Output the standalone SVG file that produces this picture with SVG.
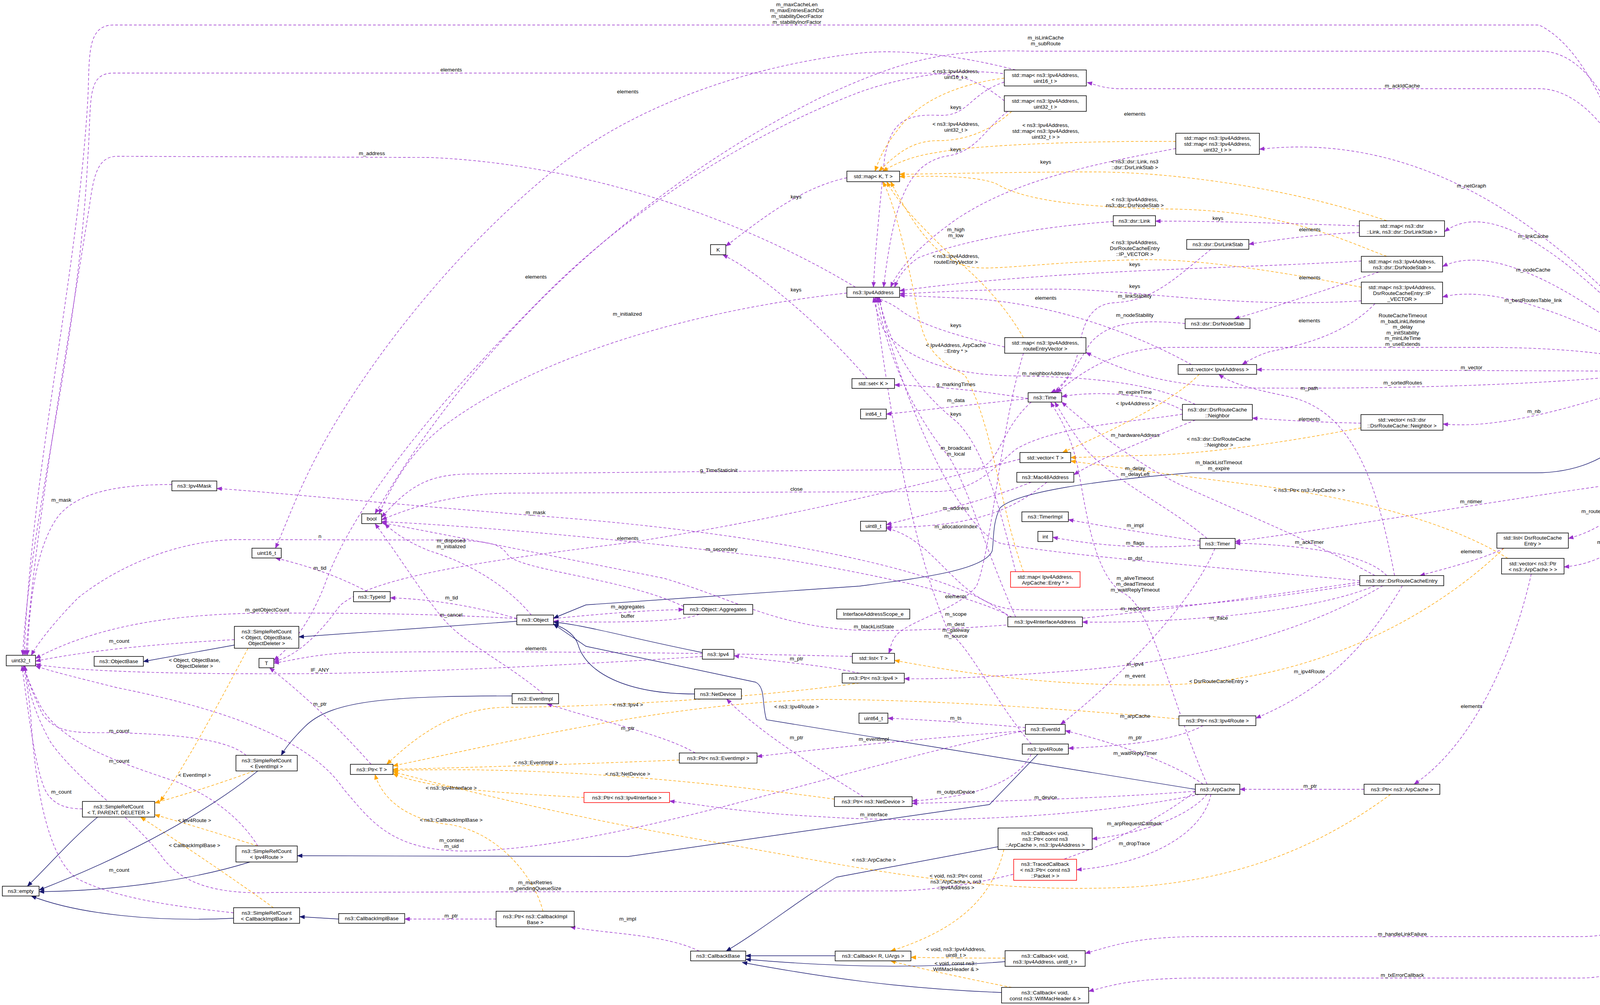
<svg xmlns="http://www.w3.org/2000/svg" width="4384" height="2572" viewBox="0 0 4384 2572">
<defs>
<marker id="ap" markerUnits="userSpaceOnUse" markerWidth="14" markerHeight="11" refX="13" refY="5.5" orient="auto"><path d="M0,0 L14,5.5 L0,11 z" fill="#9a32cd"/></marker>
<marker id="ao" markerUnits="userSpaceOnUse" markerWidth="14" markerHeight="11" refX="13" refY="5.5" orient="auto"><path d="M0,0 L14,5.5 L0,11 z" fill="#ffa500"/></marker>
<marker id="ab" markerUnits="userSpaceOnUse" markerWidth="14" markerHeight="11" refX="13" refY="5.5" orient="auto"><path d="M0,0 L14,5.5 L0,11 z" fill="#191970"/></marker>
</defs>
<style>
.node rect{fill:#fff;stroke:#000;stroke-width:1.5}
.node.root rect{fill:#bfbfbf}
.node.red rect{stroke:#ff0000}
text{font-family:"Liberation Sans",Arial,sans-serif;font-size:13.5px;fill:#000;text-anchor:middle}
#edges path{fill:none;stroke-width:1.4}
#edges .p{stroke:#9a32cd;stroke-dasharray:7,5;marker-end:url(#ap)}
#edges .o{stroke:#ffa500;stroke-dasharray:7,5;marker-end:url(#ao)}
#edges .b{stroke:#191970;marker-end:url(#ab)}
</style>
<rect width="4384" height="2572" fill="#fff"/>
<g id="edges">
<path class="p" d="M4262 937 C4240 600 4120 150 3940 64 L290 64 C220 64 230 150 225 250 C200 700 80 1200 62 1677"/>
<path class="p" d="M4270 937 C4250 600 4150 131 3943 131 L2640 131 C2400 125 2300 160 2100 250 C1600 500 1200 900 960 1315"/>
<path class="p" d="M4282 937 C4260 500 4100 227 3940 227 L2860 227 C2820 225 2800 215 2783 211"/>
<path class="p" d="M4285 937 Q3780 319 3224 382"/>
<path class="p" d="M4280 937 Q3861 471 3698 593"/>
<path class="p" d="M4275 937 Q3866 599 3693 682"/>
<path class="p" d="M4270 937 Q3869 716 3693 760"/>
<path class="p" d="M4240 937 C4150 900 3950 889 3800 889 L3000 889 C2850 889 2760 960 2705 1005"/>
<path class="p" d="M4198 950 L3217 946"/>
<path class="p" d="M4198 958 C3900 990 3500 995 3200 993 C3000 990 2900 960 2780 902"/>
<path class="p" d="M4260 963 Q3877 1104 3694 1085"/>
<path class="b" d="M4275 963 C4200 1120 4100 1210 3930 1210 L3050 1210 C2800 1230 2600 1260 2560 1300 C2540 1340 2545 1380 2540 1410 C2520 1460 2350 1480 2200 1500 L1500 1548 L1417 1582"/>
<path class="p" d="M4265 963 C4240 1100 4210 1230 4160 1236 C3900 1270 3500 1340 3162 1386"/>
<path class="p" d="M4280 963 C4260 1150 4200 1330 4015 1378"/>
<path class="p" d="M4285 963 C4270 1200 4230 1430 4004 1451"/>
<path class="p" d="M4292 963 C4290 1500 4250 2200 4150 2370 C4120 2395 4080 2397 4040 2397 L3050 2397 C2900 2400 2850 2420 2778 2440"/>
<path class="p" d="M4297 963 C4300 1600 4270 2350 4150 2480 C4110 2500 4080 2503 4040 2503 L3050 2503 C2900 2505 2850 2520 2787 2537"/>
<path class="p" d="M2571 258 C2500 200 2450 187 2350 187 L290 187 C220 187 235 260 225 400 C200 900 80 1300 58 1677"/>
<path class="p" d="M2190 735 C1900 560 1500 420 1100 403 L300 400 C250 400 240 450 230 520 C170 900 90 1350 66 1677"/>
<path class="p" d="M440 1240 C300 1240 200 1260 150 1320 C90 1400 75 1550 70 1677"/>
<path class="p" d="M1750 1552 C1600 1480 1330 1460 1300 1420 C1280 1390 1250 1385 1150 1382 L600 1381 C450 1385 300 1450 200 1530 C150 1580 100 1640 80 1677"/>
<path class="p" d="M1323 1583 C1100 1570 900 1569 700 1569 C450 1569 250 1600 91 1685"/>
<path class="p" d="M600 1637 C450 1645 250 1660 91 1692"/>
<path class="p" d="M1798 1680 C1500 1700 1100 1720 800 1724 C500 1726 200 1720 91 1700"/>
<path class="p" d="M630 1933 C580 1890 450 1880 300 1875 C200 1875 150 1880 110 1830 C90 1790 70 1740 62 1704"/>
<path class="p" d="M660 2165 C620 2100 550 2040 450 2000 C300 1950 150 1900 100 1800 C80 1760 68 1730 60 1704"/>
<path class="p" d="M211 2070 C170 2070 140 2060 120 2030 C90 1980 70 1800 56 1704"/>
<path class="p" d="M2625 1870 C2200 1950 1600 2170 1200 2178 C1000 2180 950 2100 880 2020 C800 1900 600 1820 300 1760 C180 1730 120 1715 91 1704"/>
<path class="p" d="M598 2336 C450 2320 300 2300 200 2250 C120 2200 90 2000 80 1850 C75 1780 65 1730 60 1704"/>
<path class="p" d="M3060 2025 C2900 2150 2600 2270 2300 2280 L700 2284 C550 2290 470 2260 420 2200 C350 2100 200 2000 130 1900 C90 1830 70 1760 64 1704"/>
<path class="p" d="M2168 750 C1800 790 1400 900 1150 1080 C1050 1150 1000 1250 970 1315"/>
<path class="p" d="M2640 1029 C2560 1100 2560 1190 2500 1200 L1200 1213 C1100 1215 1050 1240 977 1324"/>
<path class="p" d="M3027 1060 C2900 1080 2700 1090 2600 1150 C2540 1200 2500 1255 2400 1258 L1300 1262 C1150 1265 1050 1300 977 1330"/>
<path class="p" d="M2590 1579 C2500 1530 2300 1480 2000 1430 C1600 1380 1200 1345 977 1335"/>
<path class="p" d="M3481 1490 C3000 1560 2600 1612 2240 1614 C2000 1612 1900 1540 1700 1480 C1400 1420 1100 1360 977 1338"/>
<path class="p" d="M1360 1574 C1300 1500 1200 1440 1100 1410 C1050 1390 1010 1365 985 1340"/>
<path class="p" d="M1390 1775 C1300 1700 1200 1650 1150 1600 C1100 1550 1020 1420 960 1340"/>
<path class="p" d="M2590 1585 C2450 1450 1900 1360 1400 1322 C1000 1290 700 1260 555 1250"/>
<path class="p" d="M940 1514 Q840 1460 705 1428"/>
<path class="p" d="M1323 1583 Q1160 1535 999 1530"/>
<path class="p" d="M2600 179 C2450 140 2300 125 2200 136 C1900 170 1600 280 1400 450 C1100 700 900 1000 820 1150 C760 1260 730 1350 705 1403"/>
<path class="p" d="M2579 190 C2450 170 2300 200 2200 236 C1900 350 1600 550 1400 750 C1100 1050 900 1300 830 1500 C790 1600 740 1660 701 1690"/>
<path class="p" d="M2182 1680 C1800 1670 1200 1665 900 1670 C800 1675 750 1690 701 1697"/>
<path class="p" d="M2611 1175 C2400 1230 2000 1330 1600 1390 C1200 1440 950 1480 870 1550 C820 1620 760 1680 701 1693"/>
<path class="p" d="M950 1956 Q820 1810 690 1709"/>
<path class="p" d="M1417 1583 C1550 1570 1650 1562 1750 1560"/>
<path class="p" d="M1790 1572 C1750 1590 1600 1595 1417 1590"/>
<path class="p" d="M2571 210 C2480 240 2480 300 2400 295 C2300 290 2280 330 2265 400 C2250 550 2240 650 2236 735"/>
<path class="p" d="M2580 285 C2520 330 2500 390 2420 400 C2330 420 2290 500 2262 735"/>
<path class="p" d="M3010 380 C2800 420 2600 460 2450 560 C2350 630 2300 690 2280 735"/>
<path class="p" d="M2850 567 C2650 580 2450 620 2350 660 C2310 690 2300 710 2290 735"/>
<path class="p" d="M3485 668 C3100 690 2700 690 2303 744"/>
<path class="p" d="M3485 770 C3150 790 2900 740 2700 740 C2500 740 2400 748 2303 752"/>
<path class="p" d="M3050 933 C2900 850 2700 780 2500 765 C2400 760 2350 758 2303 756"/>
<path class="p" d="M2572 888 C2450 860 2350 830 2300 790 C2270 770 2250 765 2240 761"/>
<path class="p" d="M3060 1035 C2950 980 2800 965 2600 962 C2400 960 2300 900 2260 840 C2245 800 2240 780 2236 761"/>
<path class="p" d="M2600 1463 C2560 1300 2520 1150 2450 1080 C2350 1000 2280 900 2250 761"/>
<path class="p" d="M2600 1579 C2520 1400 2480 1250 2430 1170 C2330 1050 2270 900 2245 761"/>
<path class="p" d="M3481 1486 C3100 1450 2700 1420 2560 1390 C2450 1350 2300 1000 2250 761"/>
<path class="p" d="M2640 1904 C2550 1800 2480 1650 2430 1620 C2330 1400 2270 1000 2240 761"/>
<path class="o" d="M2571 200 C2450 215 2350 260 2300 330 C2260 380 2250 410 2240 438"/>
<path class="o" d="M2590 285 C2540 330 2480 360 2400 360 C2330 360 2290 400 2250 438"/>
<path class="o" d="M3010 362 C2800 360 2500 370 2400 390 C2330 400 2290 420 2260 438"/>
<path class="o" d="M3550 565 C3300 480 3000 440 2800 440 C2600 440 2400 445 2303 446"/>
<path class="o" d="M3550 656 C3450 620 3300 540 3000 535 C2700 530 2600 500 2550 470 C2500 450 2400 450 2303 452"/>
<path class="o" d="M3485 735 C3250 690 3050 660 2900 665 C2700 670 2560 690 2500 685 C2400 680 2330 560 2280 465"/>
<path class="o" d="M2620 864 C2560 760 2480 690 2420 640 C2350 570 2300 520 2270 465"/>
<path class="o" d="M2620 1463 C2560 1300 2540 1080 2470 960 C2400 920 2370 900 2350 800 C2320 650 2290 520 2260 465"/>
<path class="p" d="M2168 455 C2050 480 1950 560 1858 630"/>
<path class="p" d="M2220 969 C2120 850 1950 700 1850 652"/>
<path class="p" d="M2632 1020 Q2450 990 2290 985"/>
<path class="p" d="M2632 1020 Q2450 1040 2269 1060"/>
<path class="p" d="M3027 1050 C2950 1005 2800 1000 2718 1015"/>
<path class="o" d="M3070 958 C3000 1030 2850 1100 2720 1158"/>
<path class="o" d="M3484 1095 C3300 1130 3100 1160 2950 1165 C2850 1167 2800 1170 2741 1171"/>
<path class="o" d="M3860 1429 C3700 1330 3450 1270 3200 1240 C3000 1215 2850 1195 2741 1180"/>
<path class="p" d="M3060 1075 C2950 1120 2820 1170 2749 1215"/>
<path class="p" d="M2640 1234 C2500 1290 2350 1320 2269 1343"/>
<path class="p" d="M2680 1234 C2600 1300 2500 1350 2269 1349"/>
<path class="p" d="M3090 1378 C3000 1300 2850 1230 2780 1150 C2740 1100 2720 1060 2700 1029"/>
<path class="p" d="M3072 1385 Q2900 1360 2735 1330"/>
<path class="p" d="M3072 1395 Q2880 1410 2695 1375"/>
<path class="p" d="M3481 1495 C3200 1540 2900 1570 2600 1560 C2450 1550 2400 1380 2269 1352"/>
<path class="p" d="M3090 2007 C3000 1800 2950 1560 2880 1520 C2800 1480 2780 1300 2760 1200 C2740 1100 2700 1050 2690 1029"/>
<path class="p" d="M3520 1473 C3350 1380 3150 1300 3020 1240 C2900 1180 2800 1100 2718 1029"/>
<path class="p" d="M3034 828 C2900 815 2830 830 2790 880 C2760 930 2730 980 2700 1005"/>
<path class="p" d="M3100 638 C3000 720 2950 770 2850 775 C2780 780 2770 850 2760 900 C2750 950 2720 990 2690 1005"/>
<path class="p" d="M3480 578 Q3118 565 2958 566"/>
<path class="p" d="M3480 595 Q3350 600 3197 625"/>
<path class="p" d="M3530 696 C3400 740 3250 790 3160 816"/>
<path class="p" d="M3520 777 C3450 850 3350 880 3250 900 C3220 910 3200 920 3180 933"/>
<path class="p" d="M3570 1473 C3520 1200 3450 1050 3300 1015 C3200 995 3150 980 3120 958"/>
<path class="p" d="M3484 1083 Q3350 1080 3206 1070"/>
<path class="p" d="M3550 1473 C3500 1420 3350 1395 3162 1390"/>
<path class="p" d="M3850 1403 C3800 1430 3700 1455 3635 1473"/>
<path class="p" d="M3520 1499 C3350 1570 3000 1595 2771 1592"/>
<path class="p" d="M3540 1499 C3300 1640 3000 1700 2700 1720 C2500 1735 2400 1738 2315 1737"/>
<path class="p" d="M3590 1499 C3500 1650 3400 1760 3215 1838"/>
<path class="o" d="M3850 1403 C3700 1550 3400 1740 3000 1752 C2700 1760 2450 1720 2290 1690"/>
<path class="p" d="M3920 1469 C3880 1650 3780 1900 3620 2007"/>
<path class="p" d="M3492 2020 L3174 2020"/>
<path class="o" d="M3560 2033 C3400 2150 3200 2250 2900 2270 C2500 2290 2200 2220 1800 2150 C1400 2080 1100 2000 1006 1975"/>
<path class="p" d="M3080 1857 C3000 1900 2850 1910 2735 1915"/>
<path class="o" d="M3018 1840 C2800 1820 2400 1790 2100 1790 C1700 1800 1300 1900 1006 1960"/>
<path class="o" d="M2200 1748 C1900 1790 1500 1810 1300 1810 C1150 1810 1050 1900 990 1956"/>
<path class="p" d="M2200 1723 C2100 1700 1950 1690 1879 1678"/>
<path class="o" d="M1739 1945 Q1370 1960 1006 1969"/>
<path class="o" d="M1495 2041 C1300 2030 1100 2020 1006 1980"/>
<path class="o" d="M1390 2332 C1370 2250 1280 2130 1150 2110 C1050 2100 980 2050 960 1982"/>
<path class="p" d="M1780 1927 C1700 1880 1550 1850 1400 1801"/>
<path class="p" d="M2210 2039 C2100 1970 1950 1880 1860 1789"/>
<path class="o" d="M2136 2045 C1800 2000 1400 1960 1006 1972"/>
<path class="p" d="M2625 1862 Q2447 1846 2273 1838"/>
<path class="p" d="M2625 1870 Q2237 1900 1938 1936"/>
<path class="p" d="M3110 1404 C3050 1550 2850 1750 2715 1854"/>
<path class="p" d="M3080 2007 C3000 1950 2850 1900 2727 1870"/>
<path class="p" d="M2640 1930 C2600 2010 2480 2040 2335 2050"/>
<path class="p" d="M3060 2025 C2800 2045 2500 2052 2335 2056"/>
<path class="p" d="M3070 2033 C2800 2090 2400 2110 2100 2090 C1900 2080 1800 2060 1714 2050"/>
<path class="p" d="M3090 2033 C3050 2080 2950 2130 2796 2147"/>
<path class="p" d="M3100 2033 C3080 2130 2950 2210 2756 2226"/>
<path class="o" d="M2570 2174 C2540 2300 2450 2380 2280 2434"/>
<path class="o" d="M2573 2452 Q2450 2452 2332 2450"/>
<path class="o" d="M2590 2527 C2450 2500 2320 2470 2280 2459"/>
<path class="p" d="M1790 2434 C1700 2390 1550 2390 1460 2372"/>
<path class="p" d="M1270 2352 L1036 2352"/>
<path class="p" d="M2620 904 C2560 1100 2540 1400 2500 1500 C2450 1560 2350 1580 2300 1620 C2280 1640 2280 1660 2275 1672"/>
<path class="o" d="M635 1659 C560 1800 480 1950 410 2051"/>
<path class="o" d="M650 1973 C550 2010 450 2040 396 2055"/>
<path class="o" d="M660 2165 C550 2130 450 2100 396 2085"/>
<path class="o" d="M700 2323 C600 2250 450 2150 360 2091"/>
<path class="b" d="M627 1646 L367 1693"/>
<path class="b" d="M1323 1590 L765 1630"/>
<path class="b" d="M1798 1670 C1600 1630 1500 1600 1417 1592"/>
<path class="b" d="M1778 1776 C1600 1776 1500 1720 1480 1650 C1470 1620 1440 1605 1417 1597"/>
<path class="b" d="M3060 2020 L1962 1842 C1950 1800 1960 1760 1935 1746 L1500 1654 L1417 1597"/>
<path class="b" d="M1370 1781 C1000 1780 850 1790 780 1860 C750 1890 730 1915 720 1933"/>
<path class="b" d="M660 1973 C500 2100 300 2200 100 2278"/>
<path class="b" d="M250 2091 C180 2150 120 2220 70 2268"/>
<path class="b" d="M640 2206 C500 2250 300 2280 100 2282"/>
<path class="b" d="M598 2350 C400 2360 200 2340 80 2293"/>
<path class="b" d="M867 2352 L767 2346"/>
<path class="b" d="M2657 1930 L2533 2059 L1608 2192 L761 2190"/>
<path class="b" d="M2555 2167 L2141 2245 C2050 2300 1950 2380 1859 2434"/>
<path class="b" d="M2138 2446 L1909 2446"/>
<path class="b" d="M2573 2461 C2400 2475 2200 2480 1909 2455"/>
<path class="b" d="M2564 2540 C2300 2530 2100 2500 1900 2463"/>
</g>
<g id="edge-labels">
<text x="2040" y="16">m_maxCacheLen<tspan x="2040" dy="15">m_maxEntriesEachDst</tspan><tspan x="2040" dy="15">m_stabilityDecrFactor</tspan><tspan x="2040" dy="15">m_stabilityIncrFactor</tspan></text>
<text x="2677" y="101">m_isLinkCache<tspan x="2677" dy="15">m_subRoute</tspan></text>
<text x="3590" y="224">m_ackIdCache</text>
<text x="1155" y="183">elements</text>
<text x="1607" y="239">elements</text>
<text x="952" y="397">m_address</text>
<text x="3767" y="480">m_netGraph</text>
<text x="2447" y="187">&lt; ns3::Ipv4Address,<tspan x="2447" dy="15">uint16_t &gt;</tspan></text>
<text x="2447" y="279">keys</text>
<text x="2905" y="296">elements</text>
<text x="2447" y="322">&lt; ns3::Ipv4Address,<tspan x="2447" dy="15">uint32_t &gt;</tspan></text>
<text x="2677" y="325">&lt; ns3::Ipv4Address,<tspan x="2677" dy="15">std::map&lt; ns3::Ipv4Address,</tspan><tspan x="2677" dy="15">uint32_t &gt; &gt;</tspan></text>
<text x="2447" y="387">keys</text>
<text x="2677" y="419">keys</text>
<text x="2905" y="418">&lt; ns3::dsr::Link, ns3<tspan x="2905" dy="15">::dsr::DsrLinkStab &gt;</tspan></text>
<text x="2038" y="508">keys</text>
<text x="2905" y="515">&lt; ns3::Ipv4Address,<tspan x="2905" dy="15">ns3::dsr::DsrNodeStab &gt;</tspan></text>
<text x="3118" y="563">keys</text>
<text x="2447" y="592">m_high<tspan x="2447" dy="15">m_low</tspan></text>
<text x="3353" y="592">elements</text>
<text x="3925" y="609">m_linkCache</text>
<text x="2905" y="625">&lt; ns3::Ipv4Address,<tspan x="2905" dy="15">DsrRouteCacheEntry</tspan><tspan x="2905" dy="15">::IP_VECTOR &gt;</tspan></text>
<text x="2447" y="660">&lt; ns3::Ipv4Address,<tspan x="2447" dy="15">routeEntryVector &gt;</tspan></text>
<text x="2905" y="681">keys</text>
<text x="3925" y="695">m_nodeCache</text>
<text x="1372" y="713">elements</text>
<text x="3353" y="715">elements</text>
<text x="2905" y="737">keys</text>
<text x="2038" y="746">keys</text>
<text x="2905" y="762">m_linkStability</text>
<text x="2677" y="767">elements</text>
<text x="3925" y="773">m_bestRoutesTable_link</text>
<text x="1606" y="808">m_initialized</text>
<text x="2905" y="811">m_nodeStability</text>
<text x="3591" y="812">RouteCacheTimeout<tspan x="3591" dy="14.6">m_badLinkLifetime</tspan><tspan x="3591" dy="14.6">m_delay</tspan><tspan x="3591" dy="14.6">m_initStability</tspan><tspan x="3591" dy="14.6">m_minLifeTime</tspan><tspan x="3591" dy="14.6">m_useExtends</tspan></text>
<text x="3352" y="825">elements</text>
<text x="2447" y="837">keys</text>
<text x="2447" y="888">&lt; Ipv4Address, ArpCache<tspan x="2447" dy="15">::Entry * &gt;</tspan></text>
<text x="3767" y="945">m_vector</text>
<text x="2677" y="960">m_neighborAddress</text>
<text x="3591" y="984">m_sortedRoutes</text>
<text x="2447" y="988">g_markingTimes</text>
<text x="3352" y="998">m_path</text>
<text x="2906" y="1008">m_expireTime</text>
<text x="2447" y="1029">m_data</text>
<text x="2906" y="1037">&lt; Ipv4Address &gt;</text>
<text x="3927" y="1057">m_nb</text>
<text x="2447" y="1064">keys</text>
<text x="3352" y="1077">elements</text>
<text x="2906" y="1118">m_hardwareAddress</text>
<text x="3120" y="1128">&lt; ns3::dsr::DsrRouteCache<tspan x="3120" dy="15">::Neighbor &gt;</tspan></text>
<text x="2447" y="1151">m_broadcast<tspan x="2447" dy="15">m_local</tspan></text>
<text x="3120" y="1188">m_blackListTimeout<tspan x="3120" dy="15">m_expire</tspan></text>
<text x="2906" y="1203">m_delay<tspan x="2906" dy="15">m_delayLeft</tspan></text>
<text x="1840" y="1208">g_TimeStaticInit</text>
<text x="2039" y="1256">close</text>
<text x="3352" y="1259">&lt; ns3::Ptr&lt; ns3::ArpCache &gt; &gt;</text>
<text x="157" y="1284">m_mask</text>
<text x="3766" y="1288">m_ntimer</text>
<text x="2447" y="1305">m_address</text>
<text x="4108" y="1313">m_routeEntryVector</text>
<text x="1371" y="1316">m_mask</text>
<text x="2906" y="1349">m_impl</text>
<text x="2447" y="1352">m_allocationIndex</text>
<text x="819" y="1377">n</text>
<text x="1607" y="1382">elements</text>
<text x="1155" y="1388">m_disposed<tspan x="1155" dy="15">m_initialized</tspan></text>
<text x="4108" y="1392">m_arp</text>
<text x="3352" y="1392">m_ackTimer</text>
<text x="2906" y="1394">m_flags</text>
<text x="1847" y="1410">m_secondary</text>
<text x="3767" y="1416">elements</text>
<text x="2906" y="1433">m_dst</text>
<text x="819" y="1458">m_tid</text>
<text x="2906" y="1484">m_aliveTimeout<tspan x="2906" dy="15">m_deadTimeout</tspan><tspan x="2906" dy="15">m_waitReplyTimeout</tspan></text>
<text x="2447" y="1531">elements</text>
<text x="1156" y="1534">m_tid</text>
<text x="1607" y="1557">m_aggregates</text>
<text x="2906" y="1562">m_reqCount</text>
<text x="684" y="1565">m_getObjectCount</text>
<text x="2447" y="1576">m_scope</text>
<text x="1155" y="1578">m_cancel</text>
<text x="1607" y="1581">buffer</text>
<text x="3120" y="1586">m_iface</text>
<text x="2447" y="1602">m_dest<tspan x="2447" dy="15">m_gateway</tspan><tspan x="2447" dy="15">m_source</tspan></text>
<text x="2237" y="1608">m_blackListState</text>
<text x="305" y="1645">m_count</text>
<text x="1372" y="1664">elements</text>
<text x="2039" y="1690">m_ptr</text>
<text x="498" y="1694">&lt; Object, ObjectBase,<tspan x="498" dy="15">ObjectDeleter &gt;</tspan></text>
<text x="2906" y="1704">m_ipv4</text>
<text x="819" y="1719">IF_ANY</text>
<text x="3352" y="1723">m_ipv4Route</text>
<text x="2906" y="1734">m_event</text>
<text x="3120" y="1748">&lt; DsrRouteCacheEntry &gt;</text>
<text x="819" y="1806">m_ptr</text>
<text x="1607" y="1808">&lt; ns3::Ipv4 &gt;</text>
<text x="3767" y="1812">elements</text>
<text x="2039" y="1813">&lt; ns3::Ipv4Route &gt;</text>
<text x="2906" y="1837">m_arpCache</text>
<text x="2447" y="1842">m_ts</text>
<text x="1607" y="1868">m_ptr</text>
<text x="305" y="1875">m_count</text>
<text x="2906" y="1892">m_ptr</text>
<text x="2039" y="1892">m_ptr</text>
<text x="2237" y="1896">m_eventImpl</text>
<text x="2906" y="1932">m_waitReplyTimer</text>
<text x="305" y="1952">m_count</text>
<text x="1372" y="1956">&lt; ns3::EventImpl &gt;</text>
<text x="1607" y="1985">&lt; ns3::NetDevice &gt;</text>
<text x="498" y="1988">&lt; EventImpl &gt;</text>
<text x="3354" y="2016">m_ptr</text>
<text x="1155" y="2021">&lt; ns3::Ipv4Interface &gt;</text>
<text x="2447" y="2031">m_outputDevice</text>
<text x="157" y="2031">m_count</text>
<text x="2677" y="2045">m_device</text>
<text x="2237" y="2089">m_interface</text>
<text x="1155" y="2103">&lt; ns3::CallbackImplBase &gt;</text>
<text x="498" y="2104">&lt; Ipv4Route &gt;</text>
<text x="2904" y="2112">m_arpRequestCallback</text>
<text x="1156" y="2155">m_context<tspan x="1156" dy="15">m_uid</tspan></text>
<text x="2904" y="2163">m_dropTrace</text>
<text x="498" y="2168">&lt; CallbackImplBase &gt;</text>
<text x="2237" y="2205">&lt; ns3::ArpCache &gt;</text>
<text x="305" y="2231">m_count</text>
<text x="2447" y="2246">&lt; void, ns3::Ptr&lt; const<tspan x="2447" dy="15">ns3::ArpCache &gt;, ns3</tspan><tspan x="2447" dy="15">::Ipv4Address &gt;</tspan></text>
<text x="1370" y="2263">m_maxRetries<tspan x="1370" dy="15">m_pendingQueueSize</tspan></text>
<text x="1155" y="2348">m_ptr</text>
<text x="1607" y="2356">m_impl</text>
<text x="3590" y="2395">m_handleLinkFailure</text>
<text x="2447" y="2434">&lt; void, ns3::Ipv4Address,<tspan x="2447" dy="15">uint8_t &gt;</tspan></text>
<text x="2447" y="2470">&lt; void, const ns3::<tspan x="2447" dy="15">WifiMacHeader &amp; &gt;</tspan></text>
<text x="3590" y="2500">m_txErrorCallback</text>
</g>
<g id="n1" class="node root"><rect x="4198" y="937" width="179" height="26"/><text x="4287.5" y="955">ns3::dsr::DsrRouteCache</text></g>
<g id="n2" class="node"><rect x="2571" y="179" width="210" height="41"/><text x="2676" y="197">std::map&lt; ns3::Ipv4Address,<tspan x="2676" dy="15">uint16_t &gt;</tspan></text></g>
<g id="n3" class="node"><rect x="2571" y="245" width="210" height="40"/><text x="2676" y="262.5">std::map&lt; ns3::Ipv4Address,<tspan x="2676" dy="15">uint32_t &gt;</tspan></text></g>
<g id="n4" class="node"><rect x="3010" y="341" width="214" height="54"/><text x="3117" y="358">std::map&lt; ns3::Ipv4Address,<tspan x="3117" dy="15">std::map&lt; ns3::Ipv4Address,</tspan><tspan x="3117" dy="15">uint32_t &gt; &gt;</tspan></text></g>
<g id="n5" class="node"><rect x="2168" y="438" width="135" height="27"/><text x="2235.5" y="456">std::map&lt; K, T &gt;</text></g>
<g id="n6" class="node"><rect x="2850" y="552" width="108" height="26"/><text x="2904" y="570">ns3::dsr::Link</text></g>
<g id="n7" class="node"><rect x="3480" y="565" width="218" height="40"/><text x="3589" y="582.5">std::map&lt; ns3::dsr<tspan x="3589" dy="15">::Link, ns3::dsr::DsrLinkStab &gt;</tspan></text></g>
<g id="n8" class="node"><rect x="3038" y="613" width="159" height="25"/><text x="3117.5" y="630">ns3::dsr::DsrLinkStab</text></g>
<g id="n9" class="node"><rect x="1819" y="626" width="39" height="26"/><text x="1838.5" y="644">K</text></g>
<g id="n10" class="node"><rect x="3485" y="656" width="208" height="40"/><text x="3589" y="673.5">std::map&lt; ns3::Ipv4Address,<tspan x="3589" dy="15">ns3::dsr::DsrNodeStab &gt;</tspan></text></g>
<g id="n11" class="node"><rect x="3485" y="722" width="208" height="55"/><text x="3589" y="739.5">std::map&lt; ns3::Ipv4Address,<tspan x="3589" dy="15">DsrRouteCacheEntry::IP</tspan><tspan x="3589" dy="15">_VECTOR &gt;</tspan></text></g>
<g id="n12" class="node"><rect x="2168" y="735" width="135" height="26"/><text x="2235.5" y="753">ns3::Ipv4Address</text></g>
<g id="n13" class="node"><rect x="3034" y="816" width="166" height="25"/><text x="3117" y="833">ns3::dsr::DsrNodeStab</text></g>
<g id="n14" class="node"><rect x="2572" y="864" width="208" height="40"/><text x="2676" y="881.5">std::map&lt; ns3::Ipv4Address,<tspan x="2676" dy="15">routeEntryVector &gt;</tspan></text></g>
<g id="n15" class="node"><rect x="3016" y="933" width="201" height="25"/><text x="3116.5" y="950">std::vector&lt; Ipv4Address &gt;</text></g>
<g id="n16" class="node"><rect x="2181" y="969" width="109" height="25"/><text x="2235.5" y="986">std::set&lt; K &gt;</text></g>
<g id="n17" class="node"><rect x="2632" y="1005" width="86" height="24"/><text x="2675" y="1022">ns3::Time</text></g>
<g id="n18" class="node"><rect x="3027" y="1035" width="179" height="40"/><text x="3116.5" y="1052.5">ns3::dsr::DsrRouteCache<tspan x="3116.5" dy="15">::Neighbor</tspan></text></g>
<g id="n19" class="node"><rect x="3484" y="1061" width="210" height="40"/><text x="3589" y="1078.5">std::vector&lt; ns3::dsr<tspan x="3589" dy="15">::DsrRouteCache::Neighbor &gt;</tspan></text></g>
<g id="n20" class="node"><rect x="2203" y="1047" width="66" height="25"/><text x="2236" y="1064">int64_t</text></g>
<g id="n21" class="node"><rect x="2611" y="1158" width="130" height="26"/><text x="2676" y="1176">std::vector&lt; T &gt;</text></g>
<g id="n22" class="node"><rect x="2603" y="1209" width="146" height="25"/><text x="2676" y="1226">ns3::Mac48Address</text></g>
<g id="n23" class="node"><rect x="440" y="1231" width="115" height="25"/><text x="497.5" y="1248">ns3::Ipv4Mask</text></g>
<g id="n24" class="node"><rect x="926" y="1315" width="51" height="25"/><text x="951.5" y="1332">bool</text></g>
<g id="n25" class="node"><rect x="2203" y="1334" width="66" height="25"/><text x="2236" y="1351">uint8_t</text></g>
<g id="n26" class="node"><rect x="2616" y="1310" width="119" height="25"/><text x="2675.5" y="1327">ns3::TimerImpl</text></g>
<g id="n27" class="node"><rect x="2657" y="1360" width="38" height="26"/><text x="2676" y="1378">int</text></g>
<g id="n28" class="node"><rect x="3832" y="1364" width="183" height="39"/><text x="3923.5" y="1381">std::list&lt; DsrRouteCache<tspan x="3923.5" dy="15">Entry &gt;</tspan></text></g>
<g id="n29" class="node"><rect x="3072" y="1378" width="90" height="26"/><text x="3117" y="1396">ns3::Timer</text></g>
<g id="n30" class="node"><rect x="645" y="1403" width="75" height="25"/><text x="682.5" y="1420">uint16_t</text></g>
<g id="n31" class="node"><rect x="3844" y="1429" width="160" height="40"/><text x="3924" y="1446.5">std::vector&lt; ns3::Ptr<tspan x="3924" dy="15">&lt; ns3::ArpCache &gt; &gt;</tspan></text></g>
<g id="n32" class="node red"><rect x="2587" y="1463" width="178" height="40"/><text x="2676" y="1480.5">std::map&lt; Ipv4Address,<tspan x="2676" dy="15">ArpCache::Entry * &gt;</tspan></text></g>
<g id="n33" class="node"><rect x="3481" y="1473" width="215" height="26"/><text x="3588.5" y="1491">ns3::dsr::DsrRouteCacheEntry</text></g>
<g id="n34" class="node"><rect x="905" y="1514" width="94" height="26"/><text x="952" y="1532">ns3::TypeId</text></g>
<g id="n35" class="node"><rect x="1750" y="1547" width="177" height="25"/><text x="1838.5" y="1564">ns3::Object::Aggregates</text></g>
<g id="n36" class="node"><rect x="2142" y="1559" width="187" height="25"/><text x="2235.5" y="1576">InterfaceAddressScope_e</text></g>
<g id="n37" class="node"><rect x="1323" y="1574" width="94" height="25"/><text x="1370" y="1591">ns3::Object</text></g>
<g id="n38" class="node"><rect x="2580" y="1579" width="191" height="25"/><text x="2675.5" y="1596">ns3::Ipv4InterfaceAddress</text></g>
<g id="n39" class="node"><rect x="600" y="1603" width="165" height="56"/><text x="682.5" y="1621">ns3::SimpleRefCount<tspan x="682.5" dy="15">&lt; Object, ObjectBase,</tspan><tspan x="682.5" dy="15">ObjectDeleter &gt;</tspan></text></g>
<g id="n40" class="node"><rect x="16" y="1677" width="75" height="27"/><text x="53.5" y="1695">uint32_t</text></g>
<g id="n41" class="node"><rect x="241" y="1680" width="126" height="25"/><text x="304" y="1697">ns3::ObjectBase</text></g>
<g id="n42" class="node"><rect x="663" y="1685" width="38" height="24"/><text x="682" y="1702">T</text></g>
<g id="n43" class="node"><rect x="1798" y="1662" width="81" height="25"/><text x="1838.5" y="1679">ns3::Ipv4</text></g>
<g id="n44" class="node"><rect x="2182" y="1672" width="108" height="25"/><text x="2236" y="1689">std::list&lt; T &gt;</text></g>
<g id="n45" class="node"><rect x="2156" y="1723" width="159" height="25"/><text x="2235.5" y="1740">ns3::Ptr&lt; ns3::Ipv4 &gt;</text></g>
<g id="n46" class="node"><rect x="1311" y="1775" width="119" height="26"/><text x="1370.5" y="1793">ns3::EventImpl</text></g>
<g id="n47" class="node"><rect x="1778" y="1763" width="120" height="26"/><text x="1838" y="1781">ns3::NetDevice</text></g>
<g id="n48" class="node"><rect x="2199" y="1825" width="74" height="26"/><text x="2236" y="1843">uint64_t</text></g>
<g id="n49" class="node"><rect x="3018" y="1832" width="197" height="25"/><text x="3116.5" y="1849">ns3::Ptr&lt; ns3::Ipv4Route &gt;</text></g>
<g id="n50" class="node"><rect x="2625" y="1854" width="102" height="25"/><text x="2676" y="1871">ns3::EventId</text></g>
<g id="n51" class="node"><rect x="2617" y="1904" width="118" height="26"/><text x="2676" y="1922">ns3::Ipv4Route</text></g>
<g id="n52" class="node"><rect x="604" y="1933" width="157" height="40"/><text x="682.5" y="1950.5">ns3::SimpleRefCount<tspan x="682.5" dy="15">&lt; EventImpl &gt;</tspan></text></g>
<g id="n53" class="node"><rect x="1739" y="1927" width="199" height="26"/><text x="1838.5" y="1945">ns3::Ptr&lt; ns3::EventImpl &gt;</text></g>
<g id="n54" class="node"><rect x="897" y="1956" width="109" height="26"/><text x="951.5" y="1974">ns3::Ptr&lt; T &gt;</text></g>
<g id="n55" class="node"><rect x="3060" y="2007" width="114" height="26"/><text x="3117" y="2025">ns3::ArpCache</text></g>
<g id="n56" class="node"><rect x="3492" y="2007" width="194" height="26"/><text x="3589" y="2025">ns3::Ptr&lt; ns3::ArpCache &gt;</text></g>
<g id="n57" class="node red"><rect x="1495" y="2028" width="219" height="26"/><text x="1604.5" y="2046">ns3::Ptr&lt; ns3::Ipv4Interface &gt;</text></g>
<g id="n58" class="node"><rect x="2136" y="2039" width="199" height="25"/><text x="2235.5" y="2056">ns3::Ptr&lt; ns3::NetDevice &gt;</text></g>
<g id="n59" class="node"><rect x="211" y="2051" width="185" height="40"/><text x="303.5" y="2068.5">ns3::SimpleRefCount<tspan x="303.5" dy="15">&lt; T, PARENT, DELETER &gt;</tspan></text></g>
<g id="n60" class="node"><rect x="2555" y="2119" width="241" height="55"/><text x="2675.5" y="2136.5">ns3::Callback&lt; void,<tspan x="2675.5" dy="15">ns3::Ptr&lt; const ns3</tspan><tspan x="2675.5" dy="15">::ArpCache &gt;, ns3::Ipv4Address &gt;</tspan></text></g>
<g id="n61" class="node"><rect x="604" y="2165" width="157" height="41"/><text x="682.5" y="2183">ns3::SimpleRefCount<tspan x="682.5" dy="15">&lt; Ipv4Route &gt;</tspan></text></g>
<g id="n62" class="node red"><rect x="2595" y="2199" width="161" height="54"/><text x="2675.5" y="2216">ns3::TracedCallback<tspan x="2675.5" dy="15">&lt; ns3::Ptr&lt; const ns3</tspan><tspan x="2675.5" dy="15">::Packet &gt; &gt;</tspan></text></g>
<g id="n63" class="node"><rect x="6" y="2268" width="94" height="25"/><text x="53" y="2285">ns3::empty</text></g>
<g id="n64" class="node"><rect x="598" y="2323" width="169" height="40"/><text x="682.5" y="2340.5">ns3::SimpleRefCount<tspan x="682.5" dy="15">&lt; CallbackImplBase &gt;</tspan></text></g>
<g id="n65" class="node"><rect x="867" y="2338" width="169" height="25"/><text x="951.5" y="2355">ns3::CallbackImplBase</text></g>
<g id="n66" class="node"><rect x="1270" y="2332" width="200" height="40"/><text x="1370" y="2349.5">ns3::Ptr&lt; ns3::CallbackImpl<tspan x="1370" dy="15">Base &gt;</tspan></text></g>
<g id="n67" class="node"><rect x="1768" y="2434" width="141" height="25"/><text x="1838.5" y="2451">ns3::CallbackBase</text></g>
<g id="n68" class="node"><rect x="2138" y="2434" width="194" height="25"/><text x="2235" y="2451">ns3::Callback&lt; R, UArgs &gt;</text></g>
<g id="n69" class="node"><rect x="2573" y="2433" width="205" height="40"/><text x="2675.5" y="2450.5">ns3::Callback&lt; void,<tspan x="2675.5" dy="15">ns3::Ipv4Address, uint8_t &gt;</tspan></text></g>
<g id="n70" class="node"><rect x="2564" y="2527" width="223" height="40"/><text x="2675.5" y="2544.5">ns3::Callback&lt; void,<tspan x="2675.5" dy="15">const ns3::WifiMacHeader &amp; &gt;</tspan></text></g>
</svg>
